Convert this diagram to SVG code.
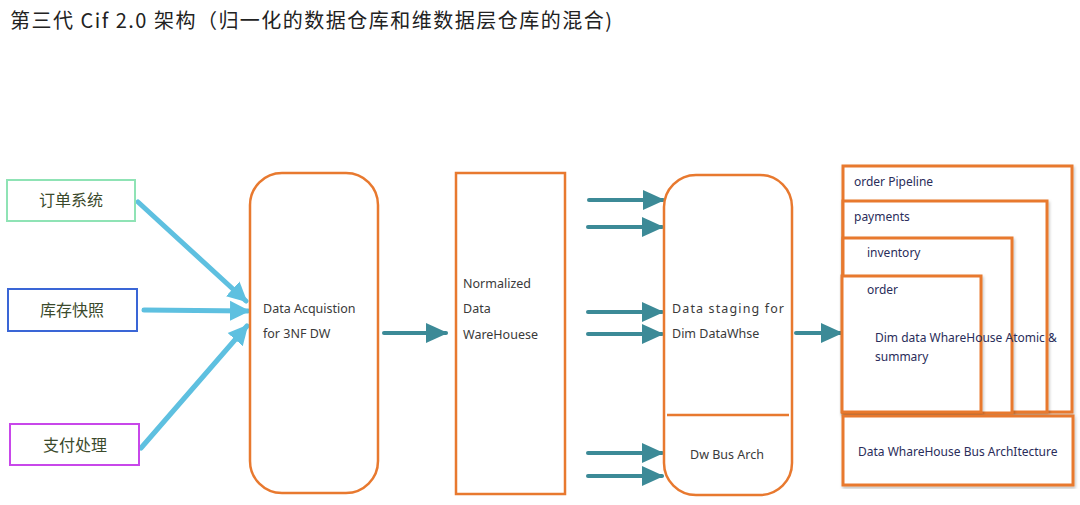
<svg xmlns="http://www.w3.org/2000/svg" width="1080" height="505" viewBox="0 0 1080 505">
<style>
.t{font-family:"Noto Sans CJK SC","Noto Sans",sans-serif;}
.lbl{font-family:"Noto Sans","Liberation Sans",sans-serif;font-size:12.5px;fill:#3a3a3a;}
.nv{font-family:"Noto Sans","Liberation Sans",sans-serif;font-size:12px;fill:#2a2d5a;}
.cn{font-family:"Noto Sans CJK SC",sans-serif;font-size:16px;fill:#3b4a2c;}
.or{fill:#fff;stroke:#e8792f;stroke-width:2.5;}
.box{fill:#fff;stroke:#e8792f;stroke-width:3;filter:url(#sh);}
.ba{stroke:#5ec0e0;stroke-width:5;fill:none;stroke-linecap:round;}
.ta{stroke:#3c8a97;stroke-width:4;fill:none;stroke-linecap:round;}
</style>
<defs>
<marker id="mb" markerUnits="userSpaceOnUse" markerWidth="24" markerHeight="24" refX="18" refY="12" orient="auto">
<path d="M0,2 L20,12 L0,22 Z" fill="#5ec0e0"/>
</marker>
<marker id="mt" markerUnits="userSpaceOnUse" markerWidth="24" markerHeight="24" refX="20" refY="12" orient="auto">
<path d="M0,2 L22,12 L0,22 Z" fill="#3c8a97"/>
</marker>
<filter id="sh" x="-5%" y="-5%" width="110%" height="110%">
<feDropShadow dx="1" dy="2" stdDeviation="1.5" flood-color="#000" flood-opacity="0.25"/>
</filter>
</defs>
<rect width="1080" height="505" fill="#fff"/>
<text class="t" x="10" y="28" font-size="20" fill="#222" textLength="602" lengthAdjust="spacing">第三代 Cif 2.0 架构（归一化的数据仓库和维数据层仓库的混合)</text>

<g id="connectors">
<line class="ba" x1="138" y1="202" x2="246" y2="301" marker-end="url(#mb)"/>
<line class="ba" x1="144" y1="310" x2="248" y2="311" marker-end="url(#mb)"/>
<line class="ba" x1="141" y1="448" x2="247" y2="326" marker-end="url(#mb)"/>
<line class="ta" x1="384" y1="333" x2="446" y2="333" marker-end="url(#mt)"/>
<line class="ta" x1="589" y1="200" x2="663" y2="200" marker-end="url(#mt)"/>
<line class="ta" x1="588" y1="227" x2="662" y2="227" marker-end="url(#mt)"/>
<line class="ta" x1="588" y1="312" x2="662" y2="312" marker-end="url(#mt)"/>
<line class="ta" x1="588" y1="334" x2="662" y2="334" marker-end="url(#mt)"/>
<line class="ta" x1="588" y1="453" x2="662" y2="453" marker-end="url(#mt)"/>
<line class="ta" x1="588" y1="476" x2="662" y2="476" marker-end="url(#mt)"/>
<line class="ta" x1="796" y1="333" x2="841" y2="333" marker-end="url(#mt)"/>
</g>

<g id="src-order">
<rect x="7" y="180" width="128" height="41" fill="#fff" stroke="#8fe3b5" stroke-width="2"/>
<text class="cn" x="71" y="206" text-anchor="middle">订单系统</text>
</g>
<g id="src-inventory">
<rect x="8" y="289" width="129" height="42" fill="#fff" stroke="#3a66d6" stroke-width="2"/>
<text class="cn" x="72" y="316" text-anchor="middle">库存快照</text>
</g>
<g id="src-payment">
<rect x="10" y="424" width="129" height="41" fill="#fff" stroke="#c847ea" stroke-width="2"/>
<text class="cn" x="75" y="451" text-anchor="middle">支付处理</text>
</g>

<g id="acq">
<rect class="or" x="250" y="173" width="128" height="320" rx="32"/>
<text class="lbl" x="263" y="313">Data Acquistion</text>
<text class="lbl" x="263" y="338">for 3NF DW</text>
</g>

<g id="ndw">
<rect class="or" x="456" y="173" width="109" height="321"/>
<text class="lbl" x="463" y="288">Normalized</text>
<text class="lbl" x="463" y="313">Data</text>
<text class="lbl" x="463" y="339">WareHouese</text>
</g>

<g id="staging">
<rect class="or" x="664" y="175" width="128" height="320" rx="32"/>
<line x1="667" y1="415" x2="789" y2="415" stroke="#e8792f" stroke-width="2.5"/>
<text class="lbl" x="672" y="313" textLength="112" lengthAdjust="spacing">Data staging for</text>
<text class="lbl" x="672" y="338">Dim DataWhse</text>
<text class="lbl" x="727" y="459" text-anchor="middle">Dw Bus Arch</text>
</g>

<g id="pipeline">
<rect class="box" x="843" y="166" width="229" height="246"/>
<text class="nv" x="854" y="186">order Pipeline</text>
</g>
<g id="payments">
<rect class="box" x="843" y="201" width="204" height="211"/>
<text class="nv" x="854" y="221">payments</text>
</g>
<g id="inventory">
<rect class="box" x="843" y="238" width="169" height="175"/>
<text class="nv" x="867" y="257">inventory</text>
</g>
<g id="order">
<rect class="box" x="842" y="276" width="139" height="136"/>
<text class="nv" x="867" y="294">order</text>
</g>
<text class="nv" x="875" y="342">Dim data WhareHouse  Atomic &amp;</text>
<text class="nv" x="875" y="361">summary</text>
<g id="bus">
<rect class="box" x="843" y="416" width="230" height="69"/>
<text class="nv" x="858" y="456">Data WhareHouse Bus ArchItecture</text>
</g>
</svg>
